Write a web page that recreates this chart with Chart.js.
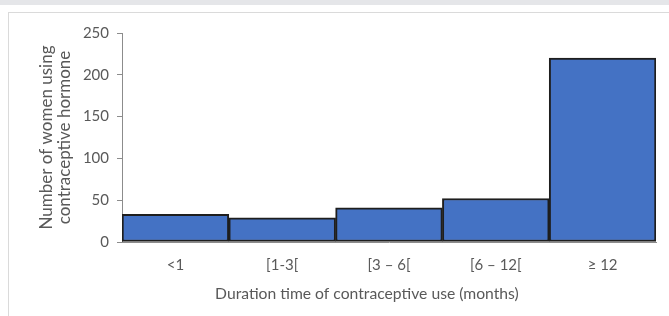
<!DOCTYPE html>
<html>
<head>
<meta charset="utf-8">
<script src="https://cdn.jsdelivr.net/npm/chart.js@4"></script>
<style>
  html, body { margin: 0; padding: 0; background: #fff; }
  body { width: 669px; height: 316px; position: relative; overflow: hidden; }
  #band { position: absolute; left: 0; top: 0; width: 669px; height: 5px; background: #e5e6e9; }
  #panel { position: absolute; left: 8px; top: 12px; width: 700px; height: 400px;
           border: 1px solid #dadada; background: #fff; }
  #wrap { position: absolute; left: 0; top: 0; width: 669px; height: 316px; }
</style>
</head>
<body>
<div id="band"></div>
<div id="panel"></div>
<div id="wrap"><canvas id="chart"></canvas></div>
<script>
// Duration categories and counts
const durationLabels = ['<1', '[1-3[', '[3 \u2013 6[', '[6 \u2013 12[', '\u2265 12'];
const womenCounts = [33, 29, 41, 52, 220];
const yTicks = [0, 50, 100, 150, 200, 250];

const fontFamily = "Lato, 'Open Sans', sans-serif";
const textGray = '#595959';

// the x title sits a bit left of centre in the original, pad it with trailing nbsp
const xTitle = 'Duration time of contraceptive use (months)' + '\u00a0'.repeat(11);

const ctx = document.getElementById('chart').getContext('2d');
const chartInstance = new Chart(ctx, {
    type: 'bar',
    data: {
        labels: durationLabels,
        datasets: [{
            data: womenCounts,
            backgroundColor: '#4472c4',
            borderColor: '#1e1e1e',
            borderWidth: 2,
            borderSkipped: false,
            barPercentage: 1.0,
            categoryPercentage: 1.0
        }]
    },
    options: {
        responsive: true,
        maintainAspectRatio: false,
        animation: false,
        layout: { padding: { left: 0, right: 13, top: 33, bottom: 0 } },
        plugins: { legend: { display: false }, tooltip: { enabled: false } },
        scales: {
            x: {
                grid: { display: false },
                border: { display: true, color: '#8c8c8c' },
                ticks: { color: textGray, padding: 6, font: { family: fontFamily, size: 15 } },
                title: {
                    display: true,
                    text: xTitle,
                    color: textGray,
                    padding: { top: 0, bottom: 13 },
                    font: { family: fontFamily, size: 15.7 }
                },
                afterFit: (scale) => { scale.height = 74; }
            },
            y: {
                min: 0,
                max: 250,
                afterBuildTicks: (scale) => { scale.ticks = yTicks.map(v => ({ value: v })); },
                grid: { drawOnChartArea: false, tickLength: 5, color: '#8c8c8c' },
                border: { display: true, color: '#8c8c8c' },
                ticks: { color: textGray, padding: 8, font: { family: fontFamily, size: 15 } },
                title: {
                    display: true,
                    text: ['Number of women using', 'contraceptive hormone'],
                    color: textGray,
                    padding: { top: 38 },
                    font: { family: fontFamily, size: 17, lineHeight: 18 / 17 }
                },
                afterFit: (scale) => { scale.width = 122; }
            }
        }
    }
});
</script>
</body>
</html>
